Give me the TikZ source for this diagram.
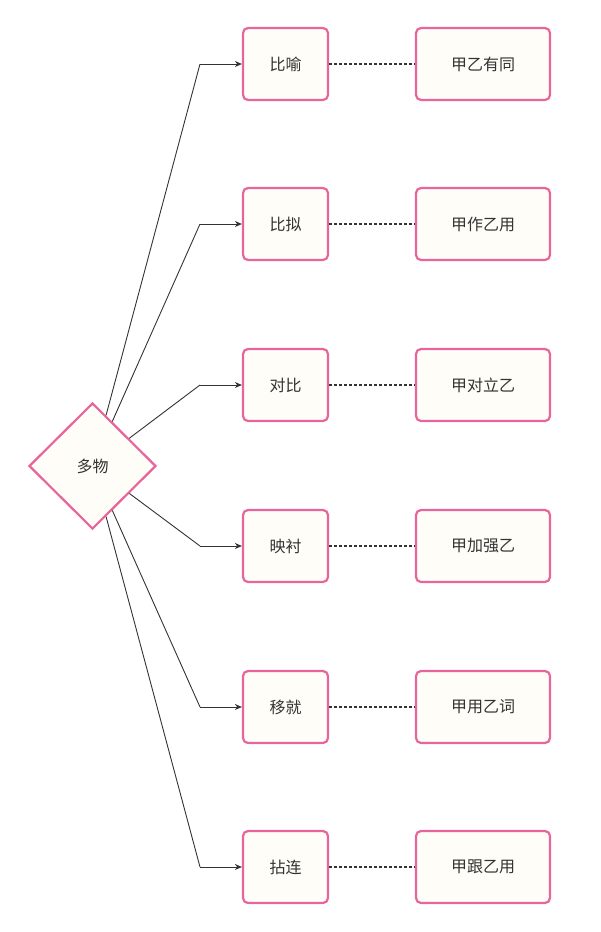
\documentclass[tikz,border=0pt]{standalone}
\usepackage{fontspec}
\setmainfont{Noto Sans CJK SC}
\usetikzlibrary{shapes.geometric,arrows.meta}
\definecolor{pk}{HTML}{E8649C}
\definecolor{bg}{HTML}{FFFDF7}
\definecolor{ln}{HTML}{333333}
\begin{document}
\begin{tikzpicture}[x=1pt,y=-1pt,
  box/.style={draw=pk,line width=2.2pt,fill=bg,rounded corners=5pt,minimum height=72pt,font=\fontsize{16}{18}\selectfont,text=ln},
  mid/.style={box,minimum width=85pt},
  rt/.style={box,minimum width=134pt},
  arr/.style={draw=ln,line width=0.9pt,-{Stealth[length=7pt,width=6pt]}},
  dot/.style={draw=ln,line width=2pt,dash pattern=on 2.5pt off 2.5pt}]
\useasboundingbox (0,0) rectangle (600,932);
\node[diamond,draw=pk,line width=2.2pt,fill=bg,minimum width=127pt,minimum height=126pt,inner sep=0,font=\fontsize{16}{18}\selectfont,text=ln] (d) at (92.5,466) {多物};
\foreach \i/\y/\a/\b in {1/64/比喻/甲乙有同,2/224/比拟/甲作乙用,3/385/对比/甲对立乙,4/546/映衬/甲加强乙,5/707/移就/甲用乙词,6/867/拈连/甲跟乙用}{
  \node[mid] (m\i) at (285.5,\y) {\a};
  \node[rt] (r\i) at (483,\y) {\b};
  \coordinate (c\i) at (200,\y);
  \draw[draw=ln,line width=0.9pt] (d) -- (c\i);
  \draw[arr] (c\i) -- (m\i.west);
  \draw[dot] (m\i.east) -- (r\i.west);
}
\end{tikzpicture}
\end{document}
